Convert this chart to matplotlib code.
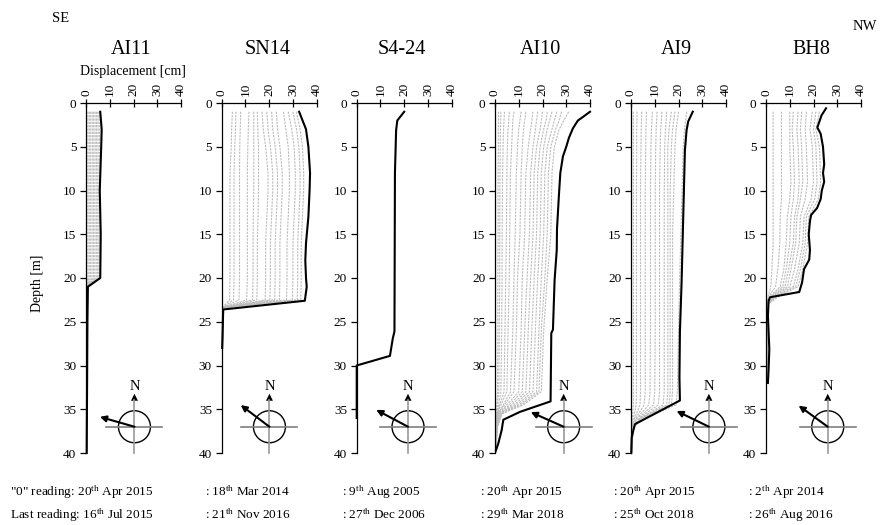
import numpy as np
import matplotlib
matplotlib.use("Agg")
import matplotlib.pyplot as plt
from matplotlib.patches import Circle, Polygon
from matplotlib.transforms import ScaledTranslation

plt.rcParams['font.family'] = ['Liberation Serif', 'DejaVu Serif']
plt.rcParams['mathtext.fontset'] = 'custom'
plt.rcParams['mathtext.rm'] = 'Liberation Serif'
plt.rcParams['mathtext.it'] = 'Liberation Serif:italic'
plt.rcParams['mathtext.bf'] = 'Liberation Serif:bold'

# --- data -------------------------------------------------------------
names = ["AI11", "SN14", "S4-24", "AI10", "AI9", "BH8"]
zero_dates = ["20$^{\\mathrm{th}}$ Apr 2015", "18$^{\\mathrm{th}}$ Mar 2014", "9$^{\\mathrm{th}}$ Aug 2005",
              "20$^{\\mathrm{th}}$ Apr 2015", "20$^{\\mathrm{th}}$ Apr 2015", "2$^{\\mathrm{th}}$ Apr 2014"]
last_dates = ["16$^{\\mathrm{th}}$ Jul 2015", "21$^{\\mathrm{th}}$ Nov 2016", "27$^{\\mathrm{th}}$ Dec 2006",
              "29$^{\\mathrm{th}}$ Mar 2018", "25$^{\\mathrm{th}}$ Oct 2018", "26$^{\\mathrm{th}}$ Aug 2016"]
x_ticks = [0, 10, 20, 30, 40]
y_ticks = [0, 5, 10, 15, 20, 25, 30, 35, 40]

# direction of displacement (azimuth, deg) and compass position (cm, m)
azimuth = [286, 307, 298, 294, 296, 306]
compass_x = [20.4, 20.1, 21.6, 28.9, 32.8, 26.0]
compass_depth = [37, 37, 37, 37, 37, 37]

# AI11
ai11_depth = [1, 3, 5, 10, 15, 20, 21, 25, 30, 35, 40]
ai11_last = [6.0, 6.6, 6.4, 5.8, 6.2, 6.0, 0.8, 0.6, 0.5, 0.4, 0.3]
ai11_gray_depth = [1, 5, 10, 15, 20, 21, 40]
ai11_gray = [
    [5.5, 5.7, 5.4, 5.5, 5.4, 0.5, 0.2],
    [5.0, 5.1, 4.9, 5.0, 4.9, 0.5, 0.2],
    [4.4, 4.5, 4.3, 4.4, 4.3, 0.4, 0.2],
    [3.8, 3.9, 3.7, 3.8, 3.7, 0.4, 0.2],
    [3.2, 3.3, 3.1, 3.2, 3.1, 0.3, 0.1],
    [2.6, 2.7, 2.5, 2.6, 2.5, 0.3, 0.1],
    [2.0, 2.0, 1.9, 2.0, 1.9, 0.3, 0.1],
    [1.4, 1.4, 1.3, 1.4, 1.3, 0.2, 0.1],
    [0.8, 0.8, 0.8, 0.8, 0.8, 0.2, 0.1],
]

# SN14
sn14_depth = [1, 3, 5, 8, 10, 13, 16, 18, 20, 21, 22.6, 23.6, 25, 28]
sn14_last = [32.6, 35.5, 36.5, 37.2, 37.0, 36.5, 35.5, 35.2, 35.5, 35.8, 35.0, 0.6, 0.5, 0.2]
sn14_gray_depth = [1, 3, 5, 8, 10, 13, 16, 20, 22.5, 23.4, 28]
sn14_gray = [
    [4.5, 4.2, 4.0, 3.5, 3.5, 3.5, 3.5, 3.5, 3.3, 0.3, 0.1],
    [6.0, 5.8, 5.5, 5.2, 5.2, 5.2, 5.2, 5.2, 5.0, 0.3, 0.1],
    [8.0, 7.8, 7.6, 7.5, 7.5, 7.5, 7.5, 7.5, 7.3, 0.4, 0.1],
    [11.5, 11.2, 11.0, 10.8, 10.8, 10.8, 10.8, 10.8, 10.5, 0.4, 0.1],
    [13.5, 13.5, 13.5, 13.5, 13.5, 13.3, 13.2, 13.2, 13.0, 0.5, 0.1],
    [15.0, 15.2, 15.5, 15.5, 15.5, 15.3, 15.0, 15.0, 14.8, 0.5, 0.1],
    [17.0, 17.5, 18.5, 19.5, 19.5, 19.0, 18.5, 18.5, 18.3, 0.6, 0.2],
    [19.0, 19.5, 20.5, 21.5, 21.5, 21.0, 20.5, 20.5, 20.3, 0.6, 0.2],
    [21.0, 21.5, 22.5, 23.5, 23.5, 23.0, 22.5, 22.5, 22.3, 0.7, 0.2],
    [23.0, 23.5, 24.5, 25.5, 25.5, 25.0, 24.5, 24.5, 24.3, 0.7, 0.2],
    [26.0, 27.0, 28.0, 28.5, 28.5, 28.0, 27.5, 27.5, 27.3, 0.8, 0.2],
    [28.0, 29.5, 30.5, 31.0, 31.0, 30.5, 30.0, 30.0, 29.8, 0.8, 0.3],
    [30.0, 31.5, 32.5, 33.0, 33.0, 32.5, 32.0, 32.0, 31.8, 0.9, 0.3],
    [31.5, 33.0, 34.0, 34.5, 34.5, 34.0, 33.5, 33.5, 33.3, 0.9, 0.3],
]

# S4-24 (only the last reading)
s424_depth = [1, 2, 3.1, 8, 26.1, 26.9, 28.9, 30, 36]
s424_last = [20.0, 17.1, 16.6, 16.1, 15.9, 15.2, 14.0, 0.0, 0.0]

# AI10
ai10_depth = [1, 1.6, 2, 2.9, 4, 5, 6.1, 8, 10.6, 14.4, 16.8, 20.2, 25.9, 26.3, 34.1, 35.3, 36.2, 37.4, 38.9, 39.7]
ai10_last = [40.0, 37.0, 34.9, 32.8, 31.1, 30.0, 28.6, 27.5, 26.9, 26.1, 26.0, 25.1, 24.4, 23.7, 23.4, 10.5, 3.5, 2.8, 1.4, 0.4]
ai10_gray_depth = [1, 2, 3, 5, 8, 15, 20, 26, 33, 34.5, 35.5, 37, 40]
ai10_gray = [
    [31, 29, 27, 25, 24, 23.5, 22, 20.5, 19.5, 12, 3, 1, 0.3],
    [28, 27, 25.5, 23.5, 22.5, 22, 21, 19.5, 18.5, 11, 2.8, 1, 0.3],
    [26, 25, 24, 22, 21, 20.5, 19.5, 18.5, 17.5, 10, 2.6, 0.9, 0.3],
    [24, 23, 22, 20.5, 19.5, 19, 18, 17, 16, 9, 2.4, 0.9, 0.3],
    [22, 21.5, 20.5, 19, 18, 17.5, 16.5, 15.5, 14.5, 8, 2.2, 0.8, 0.3],
    [20, 19.5, 19, 17.5, 16.5, 16, 15, 14, 13, 7, 2, 0.8, 0.2],
    [18, 17.5, 17, 16, 15, 14.5, 13.5, 12.5, 11.5, 6, 1.8, 0.7, 0.2],
    [16, 15.5, 15, 14, 13, 12.5, 11.5, 11, 10, 5, 1.6, 0.7, 0.2],
    [13, 12.5, 12, 11.5, 11, 10.5, 9.5, 9, 8, 4, 1.4, 0.6, 0.2],
    [11, 10.5, 10, 9.5, 9, 8.5, 8, 7.5, 6.5, 3.5, 1.2, 0.5, 0.2],
    [8, 7.5, 7.3, 7, 6.5, 6.2, 6, 5.5, 5, 2.5, 1, 0.5, 0.2],
    [6, 5.8, 5.5, 5.2, 5, 4.8, 4.5, 4.2, 3.8, 2, 0.9, 0.4, 0.2],
    [4, 3.8, 3.6, 3.4, 3.2, 3, 3, 2.8, 2.5, 1.5, 0.8, 0.4, 0.1],
    [2.5, 2.4, 2.3, 2.2, 2.1, 2, 2, 1.8, 1.6, 1, 0.6, 0.3, 0.1],
    [1.5, 1.5, 1.4, 1.4, 1.3, 1.3, 1.2, 1.2, 1.1, 0.8, 0.5, 0.3, 0.1],
]
ai10_zero_depth = [1, 36]
ai10_zero = [0.2, 0.2]

# AI9
ai9_depth = [1, 2.1, 3.1, 5.4, 12.9, 20.5, 26.1, 31.4, 34, 36.7, 37.4, 38.2, 40]
ai9_last = [26.0, 24.1, 23.4, 22.7, 22.0, 21.3, 20.6, 20.4, 20.6, 1.7, 1.0, 0.3, 0.1]
ai9_gray_depth = [1, 2, 3, 5, 10, 15, 20, 26, 33, 34.5, 36, 37, 40]
ai9_gray = [
    [23.5, 23, 22.5, 22, 21.5, 21, 20.5, 20, 19.5, 19, 6, 1, 0.2],
    [20, 19.5, 19, 18.5, 18, 17.5, 17.5, 17.5, 17.5, 17, 5, 1, 0.2],
    [18.5, 18, 17.5, 17, 16.5, 16.5, 16.5, 16.5, 16.5, 16, 4.5, 1, 0.2],
    [17, 16.5, 16, 15.5, 15.5, 15.5, 15.5, 15.5, 15.5, 15, 4.2, 0.9, 0.2],
    [15, 14.8, 14.5, 14.2, 14, 14, 14, 14, 14, 13.5, 4, 0.9, 0.2],
    [13, 12.8, 12.5, 12.3, 12, 12, 12, 12, 12, 11.5, 3.5, 0.8, 0.2],
    [11, 10.8, 10.6, 10.4, 10.2, 10.2, 10.2, 10.2, 10, 9.5, 3, 0.8, 0.2],
    [9, 8.8, 8.6, 8.4, 8.2, 8.2, 8.2, 8.2, 8, 7.5, 2.5, 0.7, 0.2],
    [6.5, 6.4, 6.3, 6.2, 6, 6, 6, 6, 6, 5.5, 2, 0.6, 0.2],
    [4.5, 4.4, 4.3, 4.2, 4, 4, 4, 4, 4, 3.8, 1.5, 0.5, 0.1],
    [2.5, 2.5, 2.4, 2.4, 2.3, 2.3, 2.3, 2.3, 2.3, 2.2, 1, 0.4, 0.1],
    [1, 1, 1, 1, 1, 1, 1, 1, 1, 1, 0.6, 0.3, 0.1],
]

# BH8
bh8_depth = [0.6, 1.4, 2.5, 2.8, 3.5, 5, 7, 8, 9, 10, 11, 12, 12.8, 13.5, 15, 16.8, 17.9, 19, 20.5, 21.6,
             22.2, 22.6, 24.3, 26.2, 28.1, 30.4, 32]
bh8_last = [25.3, 23.4, 22.0, 21.6, 23.0, 24.0, 24.5, 24.0, 24.5, 23.5, 23.0, 21.5, 19.0, 18.5, 18.0, 18.5,
            18.2, 16.0, 15.2, 14.0, 1.7, 1.1, 0.8, 1.1, 1.4, 1.1, 0.8]
bh8_gray_depth = [1, 3, 5, 9, 11, 13, 16, 19, 21, 22, 23, 30, 32]
bh8_gray = [
    [22.5, 21, 22.5, 23, 22, 18, 17.5, 15.5, 13.5, 6, 0.8, 0.8, 0.5],
    [21, 20, 21, 21.5, 20.5, 17, 16.5, 14.5, 12.5, 5, 0.7, 0.7, 0.4],
    [19.5, 18.5, 19.5, 20, 19, 16, 15.5, 13.5, 11.5, 4.5, 0.7, 0.6, 0.4],
    [17, 16.5, 17, 17.5, 16.5, 14.5, 14, 12, 10, 4, 0.6, 0.5, 0.3],
    [15, 14.5, 15, 15.5, 14.5, 13, 12.5, 10.5, 9, 3.5, 0.6, 0.5, 0.3],
    [13.5, 13, 13.5, 14, 13.5, 12, 11.5, 9.5, 8, 3, 0.5, 0.4, 0.3],
    [11.5, 11, 11.5, 12, 11.5, 10.5, 10, 8.5, 7, 2.5, 0.5, 0.4, 0.2],
    [10, 10, 10, 10.5, 10, 9, 8.5, 7.5, 6, 2, 0.4, 0.3, 0.2],
    [6.5, 6.5, 6.5, 6.5, 6.5, 6, 5.8, 5, 4, 1.5, 0.4, 0.3, 0.2],
    [3, 3, 3, 3, 3, 3, 3, 2.5, 2, 1, 0.3, 0.2, 0.1],
]

panels = [
    (ai11_depth, ai11_last, ai11_gray_depth, ai11_gray),
    (sn14_depth, sn14_last, sn14_gray_depth, sn14_gray),
    (s424_depth, s424_last, None, []),
    (ai10_depth, ai10_last, ai10_gray_depth, ai10_gray),
    (ai9_depth, ai9_last, ai9_gray_depth, ai9_gray),
    (bh8_depth, bh8_last, bh8_gray_depth, bh8_gray),
]

# --- layout (pixels of an 889x525 figure) ------------------------------
W, H = 889, 525
ax_left = [86, 221.7, 356.7, 495, 631, 766]
ax_w = 95
ax_top, ax_bot = 103, 453

fig = plt.figure(figsize=(W / 100, H / 100), dpi=100)


def draw_compass(ax, cx, cy, az):
    t = fig.dpi_scale_trans + ScaledTranslation(cx, cy, ax.transData)
    ax.plot([-0.28, 0.28], [0, 0], color='#7f7f7f', lw=1.2, transform=t, clip_on=False)
    ax.plot([0, 0], [-0.26, 0.27], color='#9a9a9a', lw=1.2, transform=t, clip_on=False)
    ax.add_patch(Circle((0, 0), 0.16, fill=False, ec='black', lw=1.0, transform=t, clip_on=False))
    ax.add_patch(Polygon([(-0.035, 0.26), (0.035, 0.26), (0, 0.33)], closed=True, fc='black',
                         ec='none', transform=t, clip_on=False))
    ax.text(0, 0.40, "N", transform=t, ha='center', va='center', fontsize=10.5, clip_on=False)
    a = np.radians(az)
    L = 0.36
    ax.annotate("", xy=(L * np.sin(a), L * np.cos(a)), xytext=(0, 0), xycoords=t, textcoords=t,
                arrowprops=dict(arrowstyle='-|>', color='black', lw=1.5, mutation_scale=9,
                                shrinkA=0, shrinkB=0), annotation_clip=False)


for i, (dep, last, gdep, gray) in enumerate(panels):
    ax = fig.add_axes([ax_left[i] / W, 1 - ax_bot / H, ax_w / W, (ax_bot - ax_top) / H])
    for g in gray:
        ax.plot(g, gdep, color='#bcbcbc', lw=0.8, ls=(0, (2, 1)))
    if i == 3:
        ax.plot(ai10_zero, ai10_zero_depth, color='#333333', lw=0.7, ls=(0, (2, 1)))
    ax.plot(last, dep, color='black', lw=1.5, solid_joinstyle='round', clip_on=False)

    ax.set_xlim(0, 40)
    ax.set_ylim(40, 0)
    ax.set_xticks(x_ticks)
    ax.set_yticks(y_ticks)
    ax.xaxis.tick_top()
    ax.tick_params(axis='x', direction='inout', length=6, width=0.9, labelsize=9.5,
                   labelrotation=90, pad=2)
    ax.tick_params(axis='y', direction='out', length=4, width=0.9, labelsize=9.5, pad=3)
    for s in ['right', 'bottom']:
        ax.spines[s].set_visible(False)
    for s in ['left', 'top']:
        ax.spines[s].set_linewidth(0.9)
    ax.patch.set_visible(False)

    draw_compass(ax, compass_x[i], compass_depth[i], azimuth[i])

    xc = (ax_left[i] + ax_w / 2) / W
    fig.text(xc - 2 / W, 1 - 49 / H, names[i], ha='center', va='center', fontsize=14.5)

fig.text(133 / W, 1 - 71 / H, "Displacement [cm]", ha='center', va='center', fontsize=10)
fig.text(37 / W, 1 - 283 / H, "Depth [m]", ha='center', va='center', rotation=90, fontsize=10)
fig.text(61 / W, 1 - 19 / H, "SE", ha='center', va='center', fontsize=10.5)
fig.text(865 / W, 1 - 26 / H, "NW", ha='center', va='center', fontsize=10.5)

# reading dates
date_x = [10, 205, 342, 480, 613, 748]
for i in range(len(names)):
    if i == 0:
        t0 = '"0" reading: ' + zero_dates[i]
        t1 = 'Last reading: ' + last_dates[i]
    else:
        t0 = ': ' + zero_dates[i]
        t1 = ': ' + last_dates[i]
    fig.text(date_x[i] / W, 1 - 496 / H, t0, ha='left', va='baseline', fontsize=9.5)
    fig.text(date_x[i] / W, 1 - 519 / H, t1, ha='left', va='baseline', fontsize=9.5)

fig.savefig("out.png", dpi=100)
